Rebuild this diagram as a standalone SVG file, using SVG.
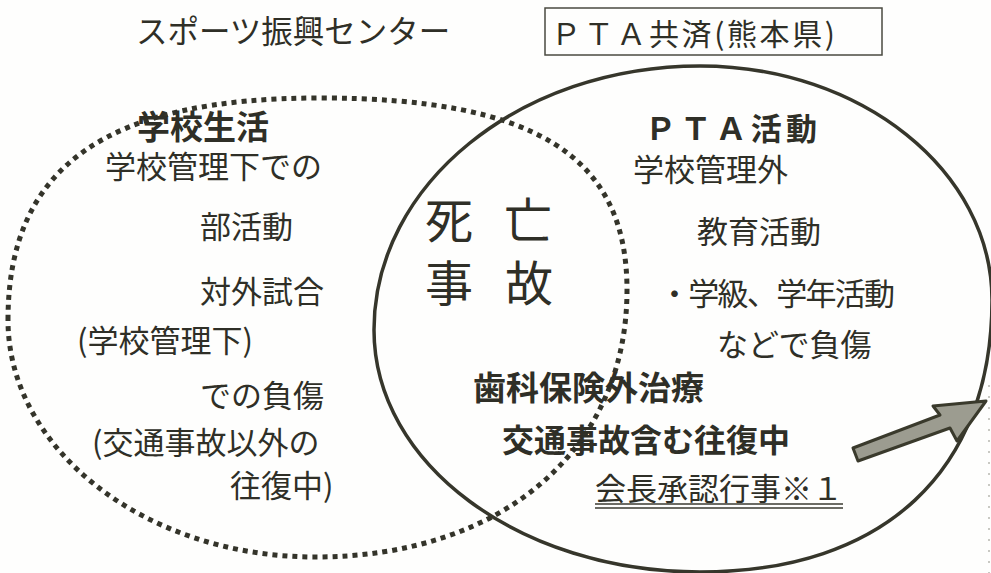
<svg xmlns="http://www.w3.org/2000/svg" width="991" height="573" viewBox="0 0 991 573">
  <style>
    .t { font-family: "Noto Sans CJK JP", "Noto Sans", sans-serif; fill: #2f2f27; }
    .lt { font-size: 31px; font-weight: 400; }
    .bd { font-weight: 700; }
    .big { font-size: 48px; font-weight: 400; }
    .dotted { fill: none; stroke: #34342a; stroke-width: 5; stroke-dasharray: 5 5; }
    .solid { fill: none; stroke: #36362b; stroke-width: 3.5; }
  </style>
  <rect x="0" y="0" width="991" height="573" fill="#fefefd"/>
  <line x1="989" y1="385" x2="989" y2="573" stroke="#b8b8b0" stroke-width="1.5" stroke-dasharray="2 9"/>

  <g id="sports-center">
    <path class="dotted" d="M 8,320 C 8,165 108,98 320,98 C 535,98 627,156 627,290 C 627,450 502,557 315,557 C 146,557 8,450 8,320 Z"/>
    <text class="t lt" x="136" y="43" style="font-size:31.5px">スポーツ振興センター</text>
  </g>

  <g id="pta-kyosai">
    <path class="solid" d="M 374,330 C 374,184 520,66 700,66 C 861,66 992,171 992,300 C 992,471 884,572 700,572 C 520,572 374,464 374,330 Z"/>
    <rect x="545" y="8" width="337" height="47" fill="none" stroke="#4a4a40" stroke-width="1.5"/>
    <text class="t" x="551" y="45" style="font-size:30px" textLength="284" lengthAdjust="spacing">ＰＴＡ共済(熊本県)</text>
  </g>

  <g id="school-life">
    <text class="t bd" x="137" y="139" style="font-size:33px">学校生活</text>
    <text class="t lt" x="105" y="178">学校管理下での</text>
    <text class="t lt" x="200" y="238">部活動</text>
    <text class="t lt" x="200" y="303">対外試合</text>
    <text class="t lt" x="77" y="352">(学校管理下)</text>
    <text class="t lt" x="200" y="407">での負傷</text>
    <text class="t lt" x="92" y="454">(交通事故以外の</text>
    <text class="t lt" x="230" y="497">往復中)</text>
  </g>

  <g id="pta-activity">
    <text class="t bd" x="645" y="140" style="font-size:31px" textLength="172" lengthAdjust="spacing">ＰＴＡ活動</text>
    <text class="t lt" x="633" y="181">学校管理外</text>
    <text class="t lt" x="697" y="243">教育活動</text>
    <text class="t lt" x="659" y="305" textLength="236" lengthAdjust="spacing">・学級、学年活動</text>
    <text class="t lt" x="717" y="356">などで負傷</text>
  </g>

  <g id="death-accident">
    <text class="t big" x="425" y="238" textLength="127" lengthAdjust="spacing">死 亡</text>
    <text class="t big" x="425" y="301" textLength="128" lengthAdjust="spacing">事 故</text>
  </g>

  <g id="overlap-items">
    <text class="t bd" x="473" y="400" style="font-size:33px">歯科保険外治療</text>
    <text class="t bd" x="502" y="452" style="font-size:32px">交通事故含む往復中</text>
    <text class="t lt" x="595" y="500">会長承認行事※１</text>
    <line x1="595" y1="504" x2="843" y2="504" stroke="#3a3a30" stroke-width="1.5"/>
    <line x1="595" y1="508" x2="843" y2="508" stroke="#3a3a30" stroke-width="1.5"/>
  </g>

  <g id="connectors">
    <polygon points="853,448 940,415 933,406 986,401 957,441 950,428 858,461" fill="#9c9c90" stroke="#3a3a2c" stroke-width="3" stroke-linejoin="round"/>
  </g>
</svg>
